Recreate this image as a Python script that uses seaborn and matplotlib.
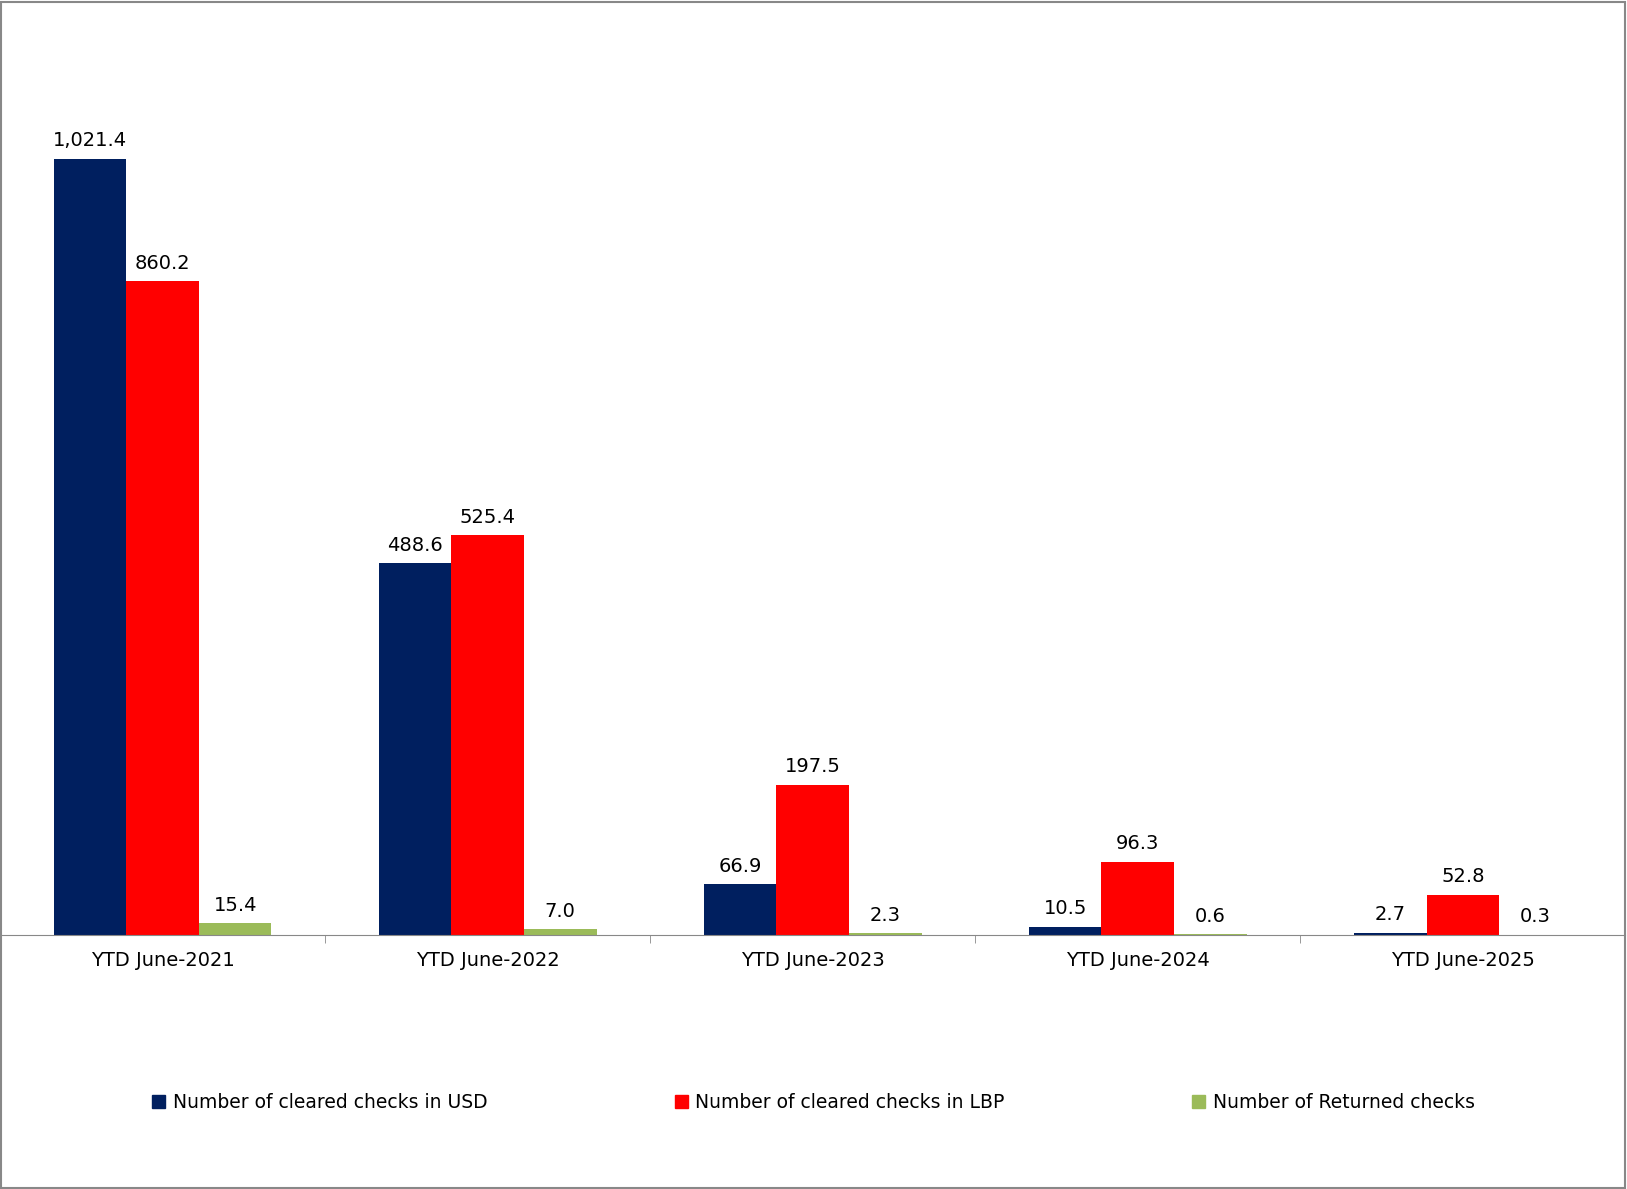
import matplotlib
matplotlib.use("Agg")
import matplotlib.pyplot as plt
import seaborn as sns
import pandas as pd
from matplotlib.patches import Rectangle

categories = ["YTD June-2021", "YTD June-2022", "YTD June-2023", "YTD June-2024", "YTD June-2025"]
series_names = ["Number of cleared checks in USD", "Number of cleared checks in LBP", "Number of Returned checks"]
usd = [1021.4, 488.6, 66.9, 10.5, 2.7]
lbp = [860.2, 525.4, 197.5, 96.3, 52.8]
returned = [15.4, 7.0, 2.3, 0.6, 0.3]
colors = ["#001F5F", "#FF0000", "#9BBB59"]

rows = []
for name, vals in zip(series_names, [usd, lbp, returned]):
    for c, v in zip(categories, vals):
        rows.append({"cat": c, "series": name, "value": v})
df = pd.DataFrame(rows)

fig = plt.figure(figsize=(16.27, 11.89), dpi=100)
ax = fig.add_axes([0.0, 0.2138, 0.9990, 0.7862])
sns.barplot(data=df, x="cat", y="value", hue="series", palette=colors, width=0.67,
            saturation=1, ax=ax, legend=False)
for cont in ax.containers:
    ax.bar_label(cont, labels=[f"{b.get_height():,.1f}" for b in cont], padding=6, fontsize=14)
ax.set_ylim(0, 1230)
ax.set_xlim(-0.5, 4.5)
for s in ["top", "right", "left"]:
    ax.spines[s].set_visible(False)
ax.spines["bottom"].set_color("#888888")
ax.set_yticks([])
ax.set_xlabel("")
ax.set_ylabel("")
ax.set_xticks([0.5, 1.5, 2.5, 3.5], minor=True)
ax.tick_params(axis="x", which="major", length=0, labelsize=14, pad=12)
ax.tick_params(axis="x", which="minor", length=6, color="#888888")

handles = [Rectangle((0, 0), 1, 1, color=c) for c in colors]
fig.legend(handles, series_names, loc="center", bbox_to_anchor=(0.5, 0.073), ncol=3,
           frameon=False, fontsize=13.5, handlelength=0.7, handleheight=0.7,
           handletextpad=0.4, columnspacing=10)
fig.add_artist(Rectangle((0.0005, 0.0005), 0.998, 0.998, transform=fig.transFigure,
                         fill=False, edgecolor="#888888", linewidth=1.5))
fig.savefig("out.png", dpi=100)
